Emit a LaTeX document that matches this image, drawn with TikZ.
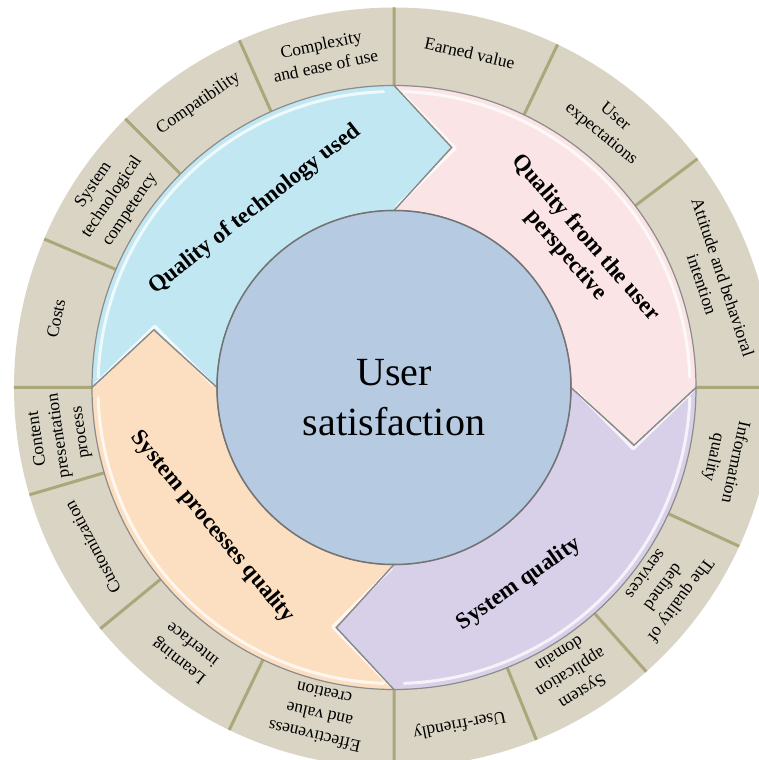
\documentclass[tikz,border=0pt]{standalone}
\usepackage{fontspec}
\setmainfont{Liberation Serif}
\usepackage{tikz}

\definecolor{ringbeige}{RGB}{217,212,195}
\definecolor{divline}{RGB}{170,167,122}
\definecolor{techblue}{RGB}{192,231,242}
\definecolor{userpink}{RGB}{251,228,230}
\definecolor{syslilac}{RGB}{216,207,232}
\definecolor{procpeach}{RGB}{252,222,192}
\definecolor{coreblue}{RGB}{182,203,226}

\begin{document}
\begin{tikzpicture}[x=1pt,y=1pt,
		divider/.style={draw=divline,line width=3pt},
		pointer/.style={draw=black!45,line width=1.2pt},
		gleam/.style={draw=white,line width=3pt,opacity=.75,line cap=round,line join=round},
		seg/.style={align=center,inner sep=0pt,font=\fontsize{17.5}{22}\selectfont},
		topic/.style={align=center,inner sep=0pt,font=\bfseries\fontsize{23}{26}\selectfont},
		core/.style={circle,fill=coreblue,draw=black!55,line width=1.5pt,minimum size=354pt,inner sep=0pt}]
			\useasboundingbox (-394,-372.5) rectangle (365,387.5);
			\clip (-394,-372.5) rectangle (365,387.5);
			\fill[ringbeige] (0,0) circle[radius=380pt];
			\path[divider]
				(90:300) -- (90:380) (64.5:300) -- (64.5:380) (37:300) -- (37:380)
				(0:300) -- (0:380) (-24.7:300) -- (-24.7:380) (-48.4:300) -- (-48.4:380)
				(-68:300) -- (-68:380) (-90:300) -- (-90:380) (-115.7:300) -- (-115.7:380)
				(-140.6:300) -- (-140.6:380) (-163.6:300) -- (-163.6:380) (180:300) -- (180:380)
				(157:300) -- (157:380) (135:300) -- (135:380) (114:300) -- (114:380);
			\fill[techblue] (180:302) arc[start angle=180,end angle=90,radius=302pt]
				-- (76.5:247) -- (90:177) arc[start angle=90,end angle=180,radius=177pt] -- (166.5:247) -- cycle;
			\fill[userpink] (90:302) arc[start angle=90,end angle=0,radius=302pt]
				-- (-13.5:247) -- (0:177) arc[start angle=0,end angle=90,radius=177pt] -- (76.5:247) -- cycle;
			\fill[syslilac] (0:302) arc[start angle=0,end angle=-90,radius=302pt]
				-- (-103.5:247) -- (-90:177) arc[start angle=-90,end angle=0,radius=177pt] -- (-13.5:247) -- cycle;
			\fill[procpeach] (-90:302) arc[start angle=-90,end angle=-180,radius=302pt]
				-- (-193.5:247) -- (-180:177) arc[start angle=-180,end angle=-90,radius=177pt] -- (-103.5:247) -- cycle;
			\path[gleam]
				(178:296) arc[start angle=178,end angle=92,radius=296pt]
				(88:296) arc[start angle=88,end angle=2,radius=296pt]
				(-2:296) arc[start angle=-2,end angle=-88,radius=296pt]
				(-92:296) arc[start angle=-92,end angle=-178,radius=296pt]
				(89.2:298) -- (75.6:247) -- (89.2:181)
				(-0.8:298) -- (-14.4:247) -- (-0.8:181)
				(-90.8:298) -- (-104.4:247) -- (-90.8:181)
				(179.2:298) -- (165.6:247) -- (179.2:181);
			\draw[pointer] (180:302) arc[start angle=180,end angle=90,radius=302pt]
				-- (76.5:247) -- (90:177) arc[start angle=90,end angle=180,radius=177pt] -- (166.5:247) -- cycle;
			\draw[pointer] (90:302) arc[start angle=90,end angle=0,radius=302pt]
				-- (-13.5:247) -- (0:177) arc[start angle=0,end angle=90,radius=177pt] -- (76.5:247) -- cycle;
			\draw[pointer] (0:302) arc[start angle=0,end angle=-90,radius=302pt]
				-- (-103.5:247) -- (-90:177) arc[start angle=-90,end angle=0,radius=177pt] -- (-13.5:247) -- cycle;
			\draw[pointer] (-90:302) arc[start angle=-90,end angle=-180,radius=302pt]
				-- (-193.5:247) -- (-180:177) arc[start angle=-180,end angle=-90,radius=177pt] -- (-103.5:247) -- cycle;
			\node[core] (u_s) at (0,0) {};
			\node[align=center,font=\fontsize{40}{50}\selectfont] (u_t) at (0,-10) {User\\satisfaction};

			\node[topic,rotate=38] (t_1) at (128:226) {Quality of technology used};
			\node[topic,rotate=-49] (t_2) at (37.8:230) {Quality from the user\\perspective};
			\node[topic,rotate=35] (t_3) at (-57.5:233) {System quality};
			\node[topic,rotate=-50] (t_4) at (-142.4:229) {System processes quality};

			\node[seg,rotate=12] (l_1) at (102:340) {Complexity\\and ease of use};
			\node[seg,rotate=-12.75] (l_2) at (77.25:343) {Earned value};
			\node[seg,rotate=-39.25] (l_3) at (50.75:338) {User\\expectations};
			\node[seg,rotate=-71.5] (l_4) at (18.5:336) {Attitude and behavioral\\intention};
			\node[seg,rotate=-102.35] (l_5) at (-12.35:338) {Information\\quality};
			\node[seg,rotate=-126.55] (l_6) at (-36.55:336) {The quality of\\defined\\services};
			\node[seg,rotate=-148.2] (l_7) at (-58.2:336) {System\\application\\domain};
			\node[seg,rotate=-169] (l_8) at (-79:343) {User-friendly};
			\node[seg,rotate=-192.85] (l_9) at (-102.85:336) {Effectiveness\\and value\\creation};
			\node[seg,rotate=-218.15] (l_10) at (-128.15:338) {Learning\\interface};
			\node[seg,rotate=-242.1] (l_11) at (-152.1:341) {Customization};
			\node[seg,rotate=-261.8] (l_12) at (-171.8:338) {Content\\presentation\\process};
			\node[seg,rotate=78.5] (l_13) at (168.5:345) {Costs};
			\node[seg,rotate=56] (l_14) at (146:340) {System\\technological\\competency};
			\node[seg,rotate=34.5] (l_15) at (124.5:345) {Compatibility};
		\end{tikzpicture}
\end{document}
